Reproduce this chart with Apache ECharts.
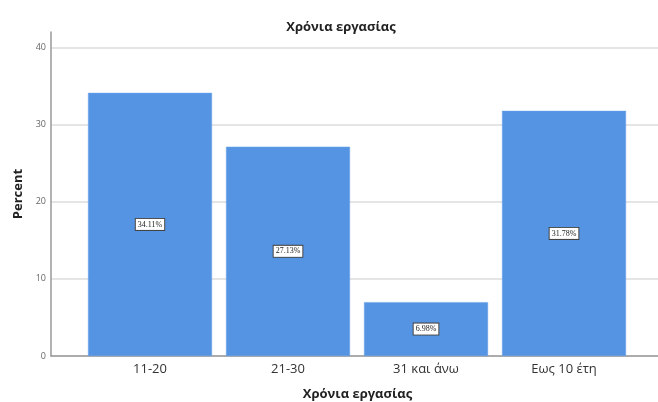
<!DOCTYPE html>
<html><head><meta charset="utf-8">
<script src="https://cdn.jsdelivr.net/npm/echarts@6/dist/echarts.min.js"></script>
<style>html,body{margin:0;padding:0;background:#fff}#c{width:658px;height:402px}</style>
</head><body><div id="c"></div>
<script>
const categories = ['11-20', '21-30', '31 και άνω', 'Εως 10 έτη'];
const percents = [34.11, 27.13, 6.98, 31.78];
const yTicks = [0, 10, 20, 30, 40];
const titleText = 'Χρόνια εργασίας';
const xName = 'Χρόνια εργασίας';
const yName = 'Percent';

const chart = echarts.init(document.getElementById('c'), null, {renderer: 'canvas'});
chart.setOption({
  animation: false,
  backgroundColor: '#fff',
  title: {text: titleText, left: 336, top: 16, textAlign: 'center',
    textStyle: {fontFamily: 'Open Sans', fontSize: 13, fontWeight: 'bold', color: '#222'}},
  grid: {left: 51, right: 0, top: 32, bottom: 46, containLabel: false, outerBoundsMode: 'none'},
  xAxis: {
    type: 'value', min: -0.7174, max: 3.681,
    axisLine: {show: true, onZero: false, lineStyle: {color: '#999', width: 1.5}},
    axisTick: {show: false},
    splitLine: {show: false},
    axisLabel: {customValues: categories.map((c, i) => i), formatter: v => categories[Math.round(v)] || '',
      color: '#333', fontSize: 13, fontFamily: 'Open Sans', margin: 7},
    name: xName, nameLocation: 'middle', nameGap: 32,
    nameTextStyle: {fontFamily: 'Open Sans', fontSize: 13, fontWeight: 'bold', color: '#222', padding: [0, 0, 0, 6]}
  },
  yAxis: {
    type: 'value', min: 0, max: 42, interval: 10,
    axisLine: {show: true, onZero: false, lineStyle: {color: '#999', width: 1.5}},
    axisTick: {show: false},
    splitLine: {show: true, showMaxLine: false, lineStyle: {color: '#ddd', width: 1.5}},
    axisLabel: {customValues: yTicks, color: '#666', fontSize: 9, fontFamily: 'Open Sans', margin: 5},
    name: yName, nameLocation: 'middle', nameGap: 26, nameRotate: 90,
    nameTextStyle: {fontFamily: 'Open Sans', fontSize: 13, fontWeight: 'bold', color: '#222'}
  },
  series: [{
    type: 'bar',
    barWidth: 124,
    data: percents.map((v, i) => [i, v]),
    itemStyle: {color: '#5594e3', borderColor: '#6aa3ea', borderWidth: 0.5},
    label: {show: true, position: 'inside', formatter: p => p.value[1].toFixed(2) + '%',
      fontFamily: 'Liberation Serif', fontSize: 8, color: '#222',
      backgroundColor: '#fff', borderColor: '#444', borderWidth: 1, padding: [2, 2, 1, 2]}
  }]
});
</script></body></html>
